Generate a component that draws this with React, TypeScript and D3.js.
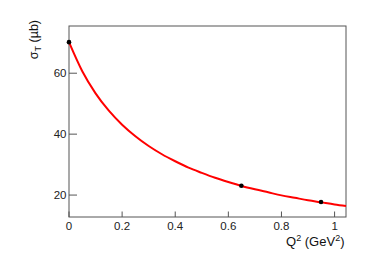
import React from "react";
import * as d3 from "d3";

const curveQ2 = [0, 0.05, 0.1, 0.15, 0.2, 0.25, 0.3, 0.35, 0.4, 0.45, 0.5, 0.55, 0.6, 0.65, 0.7, 0.75, 0.8, 0.85, 0.9, 0.95, 1.0, 1.043];
const curveSigma = [70.2, 60.65, 53.4, 47.7, 43.1, 39.3, 36.1, 33.4, 31.1, 29.0, 27.3, 25.7, 24.3, 23.0, 21.9, 20.9, 19.9, 19.1, 18.3, 17.6, 16.9, 16.4];

const pointQ2 = [0, 0.649, 0.949];
const pointSigma = [70.2, 23.05, 17.7];

const xTicks = [0, 0.2, 0.4, 0.6, 0.8, 1];
const xTickLabels = ["0", "0.2", "0.4", "0.6", "0.8", "1"];
const yTicks = [20, 40, 60];
const yTickLabels = ["20", "40", "60"];

const W = 385;
const H = 266;
const left = 69;
const right = 346;
const top = 26;
const bottom = 217;

export default function App() {
  const x = d3.scaleLinear().domain([0, 1.043]).range([left, right]);
  const y = d3.scaleLinear().domain([12.8, 75.5]).range([bottom, top]);
  const line = d3
    .line<number>()
    .x((_, i) => x(curveQ2[i]))
    .y((d) => y(d))
    .curve(d3.curveMonotoneX);
  const font = "'Liberation Sans', Arial, Helvetica, sans-serif";
  const axisColor = "#555";
  return (
    <svg
      width={W}
      height={H}
      style={{ position: "absolute", left: 0, top: 0, background: "#fff" }}
      fontFamily={font}
    >
      <rect x={left} y={top} width={right - left} height={bottom - top} fill="none" stroke={axisColor} strokeWidth={1} />
      {xTicks.map((t, i) => (
        <g key={"x" + i}>
          <line x1={x(t)} x2={x(t)} y1={bottom} y2={bottom - 5.5} stroke={axisColor} strokeWidth={1} />
          <text x={x(t)} y={229.8} textAnchor="middle" fontSize={11.5} fill="#222">
            {xTickLabels[i]}
          </text>
        </g>
      ))}
      {yTicks.map((t, i) => (
        <g key={"y" + i}>
          <line x1={left} x2={left + 8} y1={y(t)} y2={y(t)} stroke={axisColor} strokeWidth={1} />
          <text x={66.5} y={y(t) + 4.1} textAnchor="end" fontSize={11.5} fill="#222">
            {yTickLabels[i]}
          </text>
        </g>
      ))}
      <path d={line(curveSigma) || ""} fill="none" stroke="#ff0000" strokeWidth={2} />
      {pointQ2.map((q, i) => (
        <circle key={"p" + i} cx={x(q)} cy={y(pointSigma[i])} r={2.3} fill="#000" />
      ))}
      <text x={344.5} y={246} textAnchor="end" fontSize={13} fill="#111">
        Q<tspan dy={-5} fontSize={9}>2</tspan>
        <tspan dy={5}> (GeV</tspan>
        <tspan dy={-5} fontSize={9}>2</tspan>
        <tspan dy={5}>)</tspan>
      </text>
      <text
        transform={`translate(37.5, 20) rotate(-90)`}
        textAnchor="end"
        fontSize={12.5}
        fill="#111"
      >
        σ<tspan dy={3} fontSize={9}>T</tspan>
        <tspan dy={-3}> (µb)</tspan>
      </text>
    </svg>
  );
}
